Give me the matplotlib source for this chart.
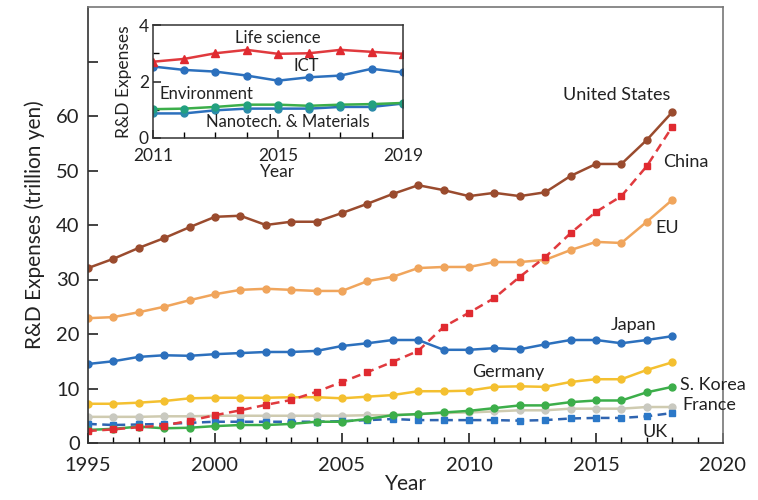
import matplotlib
matplotlib.use("Agg")
import matplotlib.pyplot as plt
from matplotlib.ticker import MultipleLocator

plt.rcParams['font.family'] = ['Lato', 'DejaVu Sans']

years = list(range(1995, 2019))

united_states = [32.1, 33.8, 35.8, 37.6, 39.6, 41.5, 41.7, 40.0, 40.6, 40.6, 42.2, 43.9,
                 45.7, 47.3, 46.4, 45.3, 45.9, 45.3, 46.0, 49.0, 51.2, 51.2, 55.6, 60.7]
china = [2.2, 2.5, 2.9, 3.2, 4.1, 5.1, 6.0, 7.0, 7.9, 9.4, 11.2, 13.0,
         14.9, 16.9, 21.3, 23.9, 26.6, 30.5, 34.1, 38.5, 42.4, 45.3, 50.8, 58.0]
eu = [22.9, 23.1, 24.0, 25.0, 26.2, 27.3, 28.1, 28.3, 28.1, 27.9, 27.9, 29.7,
      30.5, 32.1, 32.3, 32.3, 33.2, 33.2, 33.6, 35.4, 36.9, 36.7, 40.6, 44.6]
japan = [14.5, 15.0, 15.8, 16.1, 16.0, 16.3, 16.5, 16.7, 16.7, 16.9, 17.8, 18.3,
         18.9, 18.9, 17.1, 17.1, 17.4, 17.2, 18.1, 18.9, 18.9, 18.3, 18.9, 19.6]
germany = [7.2, 7.2, 7.4, 7.7, 8.2, 8.3, 8.3, 8.3, 8.4, 8.4, 8.2, 8.5,
           8.8, 9.5, 9.5, 9.6, 10.3, 10.4, 10.3, 11.2, 11.7, 11.7, 13.4, 14.8]
s_korea = [2.4, 2.6, 3.0, 2.7, 2.8, 3.1, 3.3, 3.3, 3.5, 3.9, 3.9, 4.4,
           5.1, 5.3, 5.6, 5.9, 6.4, 6.9, 6.9, 7.5, 7.8, 7.8, 9.3, 10.3]
france = [4.8, 4.8, 4.8, 4.9, 4.9, 5.0, 5.0, 5.0, 5.0, 5.0, 5.0, 5.1,
          5.1, 5.3, 5.5, 5.6, 5.8, 6.0, 6.0, 6.3, 6.3, 6.3, 6.6, 6.6]
uk = [3.5, 3.3, 3.4, 3.5, 3.7, 3.9, 3.9, 3.9, 3.9, 3.9, 4.0, 4.2,
      4.4, 4.2, 4.2, 4.2, 4.2, 4.1, 4.2, 4.5, 4.6, 4.6, 4.9, 5.5]

inset_years = list(range(2011, 2020))
life_science = [2.70, 2.80, 3.00, 3.12, 2.98, 3.00, 3.12, 3.05, 2.98]
ict = [2.53, 2.41, 2.35, 2.21, 2.03, 2.15, 2.21, 2.45, 2.32]
environment = [1.02, 1.04, 1.10, 1.18, 1.18, 1.14, 1.18, 1.20, 1.24]
nanotech = [0.87, 0.87, 0.98, 1.04, 1.04, 1.04, 1.10, 1.10, 1.22]

fig = plt.figure(figsize=(7.58, 5.0), dpi=100)
ax = fig.add_axes([0.1161, 0.114, 0.8377, 0.872])

# (values, line colour, line style, marker, marker colour)
series = [
    (france, '#cfcbb0', '-', 'o', '#c9c9c0'),
    (uk, '#2f64b0', '--', 's', '#2b78c8'),
    (s_korea, '#3cae4a', '-', 'o', '#3cae4a'),
    (germany, '#f4c030', '-', 'o', '#f4c030'),
    (japan, '#2c70bd', '-', 'o', '#2c70bd'),
    (eu, '#f0a55c', '-', 'o', '#f0a55c'),
    (china, '#e03a3e', '--', 's', '#e02a30'),
    (united_states, '#9a4b2e', '-', 'o', '#9a4b2e'),
]
for vals, col, ls, mk, mcol in series:
    line, = ax.plot(years, vals, color=col, linestyle=ls, linewidth=1.8,
                    marker=mk, markersize=5, markerfacecolor=mcol,
                    markeredgecolor=mcol)
    if ls == '--':
        line.set_dashes((3.5, 2.2))

ax.set_xlim(1995, 2020)
ax.set_ylim(0, 80)
ax.set_xticks([1995, 2000, 2005, 2010, 2015, 2020])
ax.xaxis.set_minor_locator(MultipleLocator(1))
ax.set_yticks(range(0, 80, 10))
ax.set_yticklabels(['0', '10', '20', '30', '40', '50', '60', ''])
ax.tick_params(axis='both', which='major', direction='in', length=7, width=1.2,
               labelsize=14.5, colors='#222222')
ax.tick_params(axis='x', which='major', pad=10)
ax.tick_params(axis='y', which='major', pad=6)
ax.tick_params(axis='x', which='minor', direction='in', length=4, width=1.0)
for s in ax.spines.values():
    s.set_linewidth(1.2)
    s.set_color('#333333')
ax.spines['top'].set_color('#777777')
ax.spines['right'].set_color('#777777')
ax.set_xlabel('Year', fontsize=15, color='#222222', labelpad=0)
ax.set_ylabel('R&D Expenses (trillion yen)', fontsize=15, color='#222222', labelpad=8)

lab = dict(fontsize=13, color='#222222')
ax.text(2015.83, 63.9, 'United States', ha='center', va='center', **lab)
ax.text(2017.64, 51.6, 'China', ha='left', va='center', **lab)
ax.text(2017.33, 39.4, 'EU', ha='left', va='center', **lab)
ax.text(2016.46, 21.7, 'Japan', ha='center', va='center', **lab)
ax.text(2011.55, 13.0, 'Germany', ha='center', va='center', **lab)
ax.text(2018.3, 10.6, 'S. Korea', ha='left', va='center', **lab)
ax.text(2018.4, 7.0, 'France', ha='left', va='center', **lab)
ax.text(2017.33, 2.0, 'UK', ha='center', va='center', **lab)

# inset: R&D by research field
ins = fig.add_axes([0.2018, 0.724, 0.3298, 0.226])
ins.plot(inset_years, nanotech, color='#2c70bd', linewidth=1.8, marker='o',
         markersize=5, markerfacecolor='#2a8aa8', markeredgecolor='#2a8aa8')
ins.plot(inset_years, environment, color='#3cae4a', linewidth=1.8, marker='o',
         markersize=5, markerfacecolor='#22a080', markeredgecolor='#22a080')
ins.plot(inset_years, ict, color='#2c70bd', linewidth=1.8, marker='o',
         markersize=5, markerfacecolor='#2c70bd', markeredgecolor='#2c70bd')
ins.plot(inset_years, life_science, color='#e03a3e', linewidth=1.8, marker='^',
         markersize=6, markerfacecolor='#e02a30', markeredgecolor='#e02a30')
ins.set_xlim(2011, 2019)
ins.set_ylim(0, 4)
ins.set_xticks([2011, 2015, 2019])
ins.xaxis.set_minor_locator(MultipleLocator(1))
ins.set_yticks([0, 2, 4])
ins.yaxis.set_minor_locator(MultipleLocator(1))
ins.tick_params(axis='both', which='major', direction='in', length=6, width=1.1,
                labelsize=12.5, colors='#222222')
ins.tick_params(axis='x', which='major', pad=7)
ins.tick_params(axis='y', which='major', pad=3)
ins.tick_params(axis='both', which='minor', direction='in', length=4, width=1.0)
for s in ins.spines.values():
    s.set_linewidth(1.1)
    s.set_color('#333333')
ins.set_xlabel('Year', fontsize=12.5, color='#222222', labelpad=0)
ins.set_ylabel('R&D Expenses', fontsize=12.5, color='#222222', labelpad=5)
ilab = dict(fontsize=12, color='#222222')
ins.text(2015.0, 3.55, 'Life science', ha='center', va='center', **ilab)
ins.text(2015.9, 2.55, 'ICT', ha='center', va='center', **ilab)
ins.text(2011.2, 1.55, 'Environment', ha='left', va='center', **ilab)
ins.text(2012.7, 0.55, 'Nanotech. & Materials', ha='left', va='center', **ilab)

fig.savefig('out.png', dpi=100)
